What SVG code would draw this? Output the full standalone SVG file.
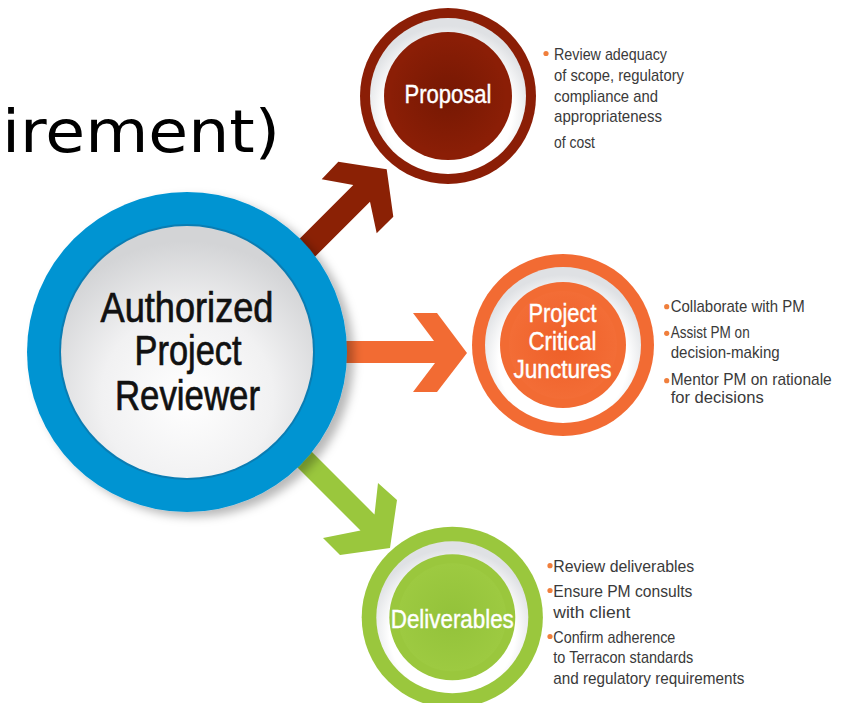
<svg xmlns="http://www.w3.org/2000/svg" width="851" height="703" viewBox="0 0 851 703">
<defs>
  <style>
    .lbl { font-family: "Liberation Sans", Arial, sans-serif; fill: #ffffff; text-anchor: middle; stroke: #ffffff; stroke-width: 0.4; }
    .ctr { font-family: "Liberation Sans", Arial, sans-serif; fill: #111111; text-anchor: middle; font-size: 42px; stroke: #111111; stroke-width: 0.7; }
    .bul { font-family: "Liberation Sans", Arial, sans-serif; fill: #3a3a3a; font-size: 17px; }
    .dot { fill: #f07f3c; }
  </style>
  <filter id="shadow" x="-20%" y="-20%" width="140%" height="140%">
    <feDropShadow dx="7" dy="5" stdDeviation="5" flood-color="#000000" flood-opacity="0.28"/>
  </filter>
  <radialGradient id="whiteDisc" cx="50%" cy="68%" r="62%">
    <stop offset="0" stop-color="#ffffff"/>
    <stop offset="0.55" stop-color="#f1f1f2"/>
    <stop offset="1" stop-color="#d3d4d6"/>
  </radialGradient>
  <radialGradient id="ring" cx="50%" cy="60%" r="55%">
    <stop offset="0.75" stop-color="#ffffff"/>
    <stop offset="1" stop-color="#dfe1e4"/>
  </radialGradient>
  <radialGradient id="redIn" cx="50%" cy="50%" r="50%">
    <stop offset="0" stop-color="#761803"/>
    <stop offset="1" stop-color="#8a1e06"/>
  </radialGradient>
  <radialGradient id="orIn" cx="50%" cy="50%" r="50%">
    <stop offset="0" stop-color="#ee5f28"/>
    <stop offset="1" stop-color="#f36d36"/>
  </radialGradient>
  <radialGradient id="grIn" cx="50%" cy="50%" r="50%">
    <stop offset="0" stop-color="#93c23a"/>
    <stop offset="1" stop-color="#9dca41"/>
  </radialGradient>
</defs>

<rect x="0" y="0" width="851" height="703" fill="#ffffff"/>

<text x="2" y="152" font-family="DejaVu Sans, Verdana, sans-serif" font-size="58" fill="#000000" textLength="278" lengthAdjust="spacingAndGlyphs">irement)</text>

<g id="connectors">
  <polygon fill="#8b2105" points="386.7,169.3 393.3,216.7 376.7,233.3 370,201.7 255,316.7 240,298.3 353.3,185 321.7,179.3 338.3,161.7"/>
  <polygon fill="#f26b33" points="300,341 434,341 413,313 437,313 467,353 437,392 413,392 435,363 300,363"/>
  <polygon fill="#9ac73d" points="250,390 374.5,514.5 378,483 397,500 390,548 340,555 323,538 360.5,530.5 235,405"/>
</g>

<g id="reviewer">
  <circle cx="187" cy="352" r="160" fill="#0094d2" filter="url(#shadow)"/>
  <circle cx="187" cy="352" r="128" fill="#0a7db3"/>
  <circle cx="187" cy="352" r="126" fill="url(#whiteDisc)"/>
  <text class="ctr" x="187" y="322" textLength="173" lengthAdjust="spacingAndGlyphs">Authorized</text>
  <text class="ctr" x="188" y="365" textLength="107" lengthAdjust="spacingAndGlyphs">Project</text>
  <text class="ctr" x="187.5" y="410" textLength="145" lengthAdjust="spacingAndGlyphs">Reviewer</text>
</g>

<g id="proposal">
  <circle cx="448" cy="96" r="88" fill="#8b1e06"/>
  <circle cx="448" cy="96" r="78" fill="url(#ring)"/>
  <circle cx="448" cy="96" r="64" fill="#8b1e06"/>
  <circle cx="448" cy="96" r="57" fill="url(#redIn)"/>
  <text class="lbl" x="448" y="103.3" font-size="25" textLength="87" lengthAdjust="spacingAndGlyphs">Proposal</text>
</g>

<g id="junctures">
  <circle cx="563" cy="345" r="91" fill="#f26b33"/>
  <circle cx="563" cy="345" r="78" fill="url(#ring)"/>
  <circle cx="563" cy="345" r="63" fill="#f26b33"/>
  <circle cx="563" cy="345" r="54" fill="url(#orIn)"/>
  <text class="lbl" x="562.5" y="321.7" font-size="25.5" textLength="68" lengthAdjust="spacingAndGlyphs">Project</text>
  <text class="lbl" x="562.5" y="350" font-size="25.5" textLength="68" lengthAdjust="spacingAndGlyphs">Critical</text>
  <text class="lbl" x="562.5" y="378.3" font-size="25.5" textLength="98" lengthAdjust="spacingAndGlyphs">Junctures</text>
</g>

<g id="deliverables">
  <circle cx="452.3" cy="617.3" r="90.6" fill="#9ac73d"/>
  <circle cx="452.3" cy="617.3" r="76" fill="url(#ring)"/>
  <circle cx="452.3" cy="617.3" r="63" fill="#9ac73d"/>
  <circle cx="452.3" cy="617.3" r="54" fill="url(#grIn)"/>
  <text class="lbl" x="452.3" y="628.3" font-size="25" textLength="123" lengthAdjust="spacingAndGlyphs">Deliverables</text>
</g>

<g id="proposal-notes">
  <circle class="dot" cx="546" cy="53.5" r="2.6"/>
  <text class="bul" x="554" y="60" textLength="113" lengthAdjust="spacingAndGlyphs">Review adequacy</text>
  <text class="bul" x="554" y="81" textLength="130" lengthAdjust="spacingAndGlyphs">of scope, regulatory</text>
  <text class="bul" x="554" y="101.5" textLength="104" lengthAdjust="spacingAndGlyphs">compliance and</text>
  <text class="bul" x="554" y="122" textLength="108" lengthAdjust="spacingAndGlyphs">appropriateness</text>
  <text class="bul" x="554" y="148" textLength="41" lengthAdjust="spacingAndGlyphs">of cost</text>
</g>

<g id="junctures-notes">
  <circle class="dot" cx="666.7" cy="306.7" r="2.6"/>
  <circle class="dot" cx="666.7" cy="333.3" r="2.6"/>
  <circle class="dot" cx="666.7" cy="380.7" r="2.6"/>
  <text class="bul" x="670.7" y="311.7" textLength="134" lengthAdjust="spacingAndGlyphs">Collaborate with PM</text>
  <text class="bul" x="670.7" y="338.3" textLength="79" lengthAdjust="spacingAndGlyphs">Assist PM on</text>
  <text class="bul" x="670.7" y="357.7" textLength="109" lengthAdjust="spacingAndGlyphs">decision-making</text>
  <text class="bul" x="670.7" y="385" textLength="161" lengthAdjust="spacingAndGlyphs">Mentor PM on rationale</text>
  <text class="bul" x="670.7" y="403.3" textLength="93" lengthAdjust="spacingAndGlyphs">for decisions</text>
</g>

<g id="deliverables-notes">
  <circle class="dot" cx="550" cy="565.7" r="2.6"/>
  <circle class="dot" cx="550" cy="590.5" r="2.6"/>
  <circle class="dot" cx="550" cy="636.5" r="2.6"/>
  <text class="bul" x="553.3" y="571.7" textLength="141" lengthAdjust="spacingAndGlyphs">Review deliverables</text>
  <text class="bul" x="553.3" y="596.7" textLength="139" lengthAdjust="spacingAndGlyphs">Ensure PM consults</text>
  <text class="bul" x="553.3" y="617.7" textLength="77" lengthAdjust="spacingAndGlyphs">with client</text>
  <text class="bul" x="553.3" y="642.7" textLength="122" lengthAdjust="spacingAndGlyphs">Confirm adherence</text>
  <text class="bul" x="553.3" y="663.3" textLength="140" lengthAdjust="spacingAndGlyphs">to Terracon standards</text>
  <text class="bul" x="553.3" y="684.3" textLength="191" lengthAdjust="spacingAndGlyphs">and regulatory requirements</text>
</g>
</svg>
